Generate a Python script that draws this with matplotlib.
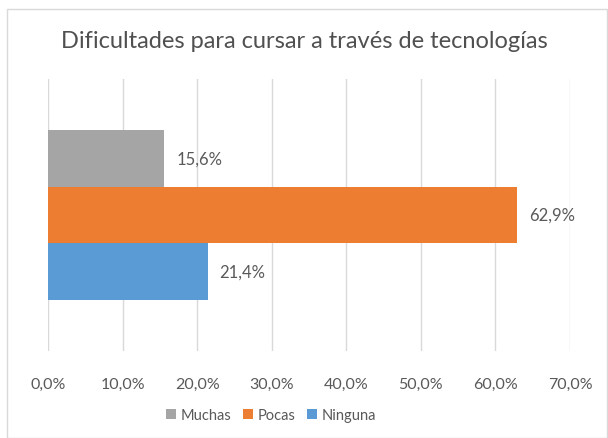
import matplotlib
matplotlib.use("Agg")
import matplotlib.pyplot as plt
from matplotlib.patches import Rectangle
from matplotlib.ticker import FuncFormatter

# data
series = ["Muchas", "Pocas", "Ninguna"]
values = [15.6, 62.9, 21.4]
colors = ["#A5A5A5", "#ED7D31", "#5B9BD5"]
ticks = [0, 10, 20, 30, 40, 50, 60, 70]

TXT = "#595959"
plt.rcParams["font.family"] = ["Lato", "DejaVu Sans"]

fig = plt.figure(figsize=(6.08, 4.39), dpi=100)
fig.patches.append(Rectangle((7 / 608, 0.0), 0.999 - 7 / 608, 1 - 10 / 439,
                             transform=fig.transFigure, fill=False,
                             edgecolor="#D9D9D9", lw=1.0))

ax = fig.add_axes([48 / 608, 1 - 352 / 439, (570 - 48) / 608, (352 - 80) / 439])
pos = list(range(len(series)))
ax.barh(pos, values, height=1.0, color=colors, label=series, zorder=2)
for p, v in zip(pos, values):
    ax.text(v + 1.6, p, f"{v:.1f}%".replace(".", ","), va="center", ha="left",
            fontsize=12, color=TXT)

ax.set_xlim(0, 70)
ax.set_ylim(3.405, -1.405)
ax.set_xticks(ticks)
ax.xaxis.set_major_formatter(FuncFormatter(lambda x, _: f"{x:.1f}%".replace(".", ",")))
ax.tick_params(axis="x", length=0, pad=19, labelsize=11.5, labelcolor=TXT)
ax.set_yticks([])
ax.grid(axis="x", color="#D9D9D9", lw=1.0, zorder=0)
for s in ax.spines.values():
    s.set_visible(False)

fig.text(0.5, 1 - 42 / 439, "Dificultades para cursar a través de tecnologías",
         ha="center", va="center", fontsize=17, color="#505050")

handles, labels = ax.get_legend_handles_labels()
fig.legend(handles, labels, loc="center", bbox_to_anchor=(271 / 608, 1 - 416 / 439),
           ncol=3, frameon=False, fontsize=10.5, labelcolor=TXT,
           handlelength=0.7, handleheight=0.7, handletextpad=0.3, columnspacing=0.8)

fig.savefig("out.png", dpi=100)
